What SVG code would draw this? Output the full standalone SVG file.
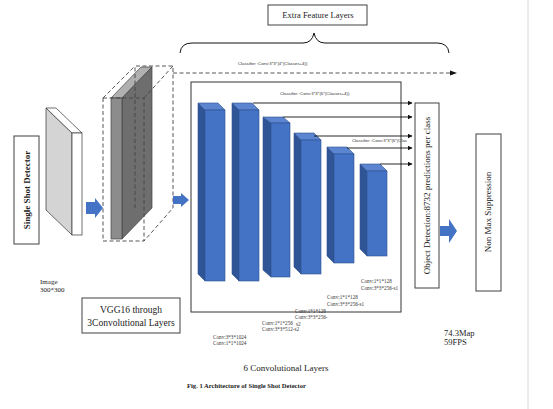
<svg xmlns="http://www.w3.org/2000/svg" width="553" height="409" viewBox="0 0 553 409">
<style>
.box{fill:#fff;stroke:#404040;stroke-width:1}
.serif{font-family:"Liberation Serif","Times New Roman",serif;fill:#222}
.small{font-family:"Liberation Sans",Arial,sans-serif;font-size:4.3px;fill:#333}
.conv{font-family:"Liberation Serif","Times New Roman",serif;font-size:5.2px;fill:#333}
.front{fill:#4472C4;stroke:#2F528F;stroke-width:0.6}
.side{fill:#2F5597;stroke:#2F528F;stroke-width:0.6}
.top{fill:#5B85D0;stroke:#2F528F;stroke-width:0.6}
.blue{fill:#4472C4}
.dash{fill:none;stroke:#444;stroke-width:0.9;stroke-dasharray:4 2.5}
.line{stroke:#111;stroke-width:0.9;fill:none}
</style>
<defs>
<marker id="ah" viewBox="0 0 10 10" refX="9" refY="5" markerWidth="5" markerHeight="5" orient="auto" markerUnits="userSpaceOnUse">
<path d="M0,0 L10,5 L0,10 z" fill="#111"/>
</marker>
</defs>
<rect width="553" height="409" fill="#fff"/>
<line x1="528" y1="0" x2="528" y2="409" stroke="#d8d8d8" stroke-width="1"/>

<g id="single-shot-detector">
<rect class="box" x="14" y="136" width="25" height="108"/>
<text class="serif" font-weight="bold" font-size="9" text-anchor="middle" transform="translate(29.5,190) rotate(-90)">Single Shot Detector</text>
</g>

<g id="image">
<polygon points="46,108 72,133 72,235 46,210" fill="#d4d4d4" stroke="#333" stroke-width="0.7"/>
<polygon points="46,108 56,108 82,133 72,133" fill="#fff" stroke="#333" stroke-width="0.7"/>
<rect x="72" y="133" width="10" height="102" fill="#fff" stroke="#333" stroke-width="0.7"/>
<text class="serif" font-size="7" x="40" y="284">Image</text>
<text class="serif" font-size="7" x="40" y="292">300*300</text>
</g>

<g id="vgg16">
<polygon points="111,98 141,67 152,67 122,98" fill="#b0b0b0" stroke="#444" stroke-width="0.7"/>
<polygon points="122,98 152,67 152,208 122,239" fill="#6e6e6e" stroke="#444" stroke-width="0.7"/>
<rect x="111" y="98" width="11" height="141" fill="#8c8c8c" stroke="#444" stroke-width="0.7"/>
<rect class="dash" x="103" y="98" width="41" height="143"/>
<polyline class="dash" points="135,208 135,66 173,66 173,208 144,241"/>
<line class="dash" x1="103" y1="98" x2="135" y2="66"/>
<line class="dash" x1="144" y1="98" x2="173" y2="66"/>
<rect class="box" x="82" y="298" width="98" height="35"/>
<text class="serif" font-size="9.5" text-anchor="middle" x="131" y="313">VGG16 through</text>
<text class="serif" font-size="9.5" text-anchor="middle" x="131" y="326">3Convolutional Layers</text>
</g>

<g id="extra-feature-layers">
<rect class="box" x="268" y="5" width="99" height="20"/>
<text class="serif" font-size="8.5" text-anchor="middle" x="318" y="18">Extra Feature Layers</text>
<path d="M180,53 Q181,43 192,43 L303,43 Q312,43 314,33 Q316,43 325,43 L437,43 Q448,43 449,53" fill="none" stroke="#111" stroke-width="1"/>
</g>

<g id="conv-layers">
<rect x="191" y="82" width="210" height="230" fill="none" stroke="#333" stroke-width="1"/>
<g id="bar1"><polygon class="side" points="198,103 205,110 205,281 198,274"/><polygon class="top" points="198,103 218,103 225,110 205,110"/><rect class="front" x="205" y="110" width="20" height="171"/></g>
<g id="bar2"><polygon class="side" points="232,103 239,110 239,281 232,274"/><polygon class="top" points="232,103 252,103 259,110 239,110"/><rect class="front" x="239" y="110" width="20" height="171"/></g>
<g id="bar3"><polygon class="side" points="263,117 271,123 271,277 263,270"/><polygon class="top" points="263,117 283,117 290,123 271,123"/><rect class="front" x="271" y="123" width="19" height="154"/></g>
<g id="bar4"><polygon class="side" points="294,133 301,140 301,274 294,267"/><polygon class="top" points="294,133 314,133 321,140 301,140"/><rect class="front" x="301" y="140" width="20" height="134"/></g>
<g id="bar5"><polygon class="side" points="327,147 334,154 334,263 327,256"/><polygon class="top" points="327,147 347,147 354,154 334,154"/><rect class="front" x="334" y="154" width="20" height="109"/></g>
<g id="bar6"><polygon class="side" points="360,164 367,171 367,256 360,249"/><polygon class="top" points="360,164 380,164 387,171 367,171"/><rect class="front" x="367" y="171" width="20" height="85"/></g>
<text class="conv" x="361" y="283">Conv:1*1*128</text>
<text class="conv" x="361" y="290">Conv:3*3*256-s1</text>
<text class="conv" x="327" y="299">Conv:1*1*128</text>
<text class="conv" x="327" y="306">Conv:3*3*256-s1</text>
<text class="conv" x="295" y="312.5">Conv:1*1*128</text>
<text class="conv" x="295" y="318.5">Conv:3*3*256-</text>
<text class="conv" x="262" y="325">Conv:1*1*256</text>
<text class="conv" x="296" y="326">s2</text>
<text class="conv" x="262" y="331">Conv:3*3*512-s2</text>
<text class="conv" x="213" y="339">Conv:3*3*1024</text>
<text class="conv" x="213" y="345">Conv:1*1*1024</text>
<text class="serif" font-size="9" text-anchor="middle" x="286" y="371">6 Convolutional Layers</text>
</g>

<g id="object-detection">
<rect class="box" x="415" y="103" width="24" height="185"/>
<text class="serif" font-size="9" text-anchor="middle" transform="translate(430,195.5) rotate(-90)">Object Detection:8732 predictions per class</text>
</g>

<g id="non-max-suppression">
<rect class="box" x="476" y="134" width="25" height="157"/>
<text class="serif" font-size="9" text-anchor="middle" transform="translate(491,212) rotate(-90)">Non Max Suppression</text>
</g>

<g id="connectors">
<polygon class="blue" points="86,202 95,202 95,198 103,208 95,218 95,214 86,214"/>
<polygon class="blue" points="173,196 181,196 181,193 189,200 181,207 181,204 173,204"/>
<polygon class="blue" points="440,226 449,226 449,219 457,231 449,243 449,236 440,236"/>
<line class="dash" x1="173" y1="73" x2="452" y2="73"/>
<polygon points="450,70.5 457,73 450,75.5" fill="#111"/>
<line class="line" x1="253" y1="103" x2="412" y2="103" marker-end="url(#ah)"/>
<line class="line" x1="283" y1="117" x2="412" y2="117" marker-end="url(#ah)"/>
<line class="line" x1="314" y1="136" x2="412" y2="136" marker-end="url(#ah)"/>
<line class="line" x1="347" y1="148" x2="412" y2="148" marker-end="url(#ah)"/>
<line class="line" x1="380" y1="164" x2="412" y2="164" marker-end="url(#ah)"/>
</g>

<g id="labels">
<text class="small" x="238" y="65">Classifier :Conv:3*3*(4*(Classes+4))</text>
<text class="small" x="280" y="95">Classifier :Conv:3*3*(6*(Classes+4))</text>
<text class="small" x="352" y="142">Classifier :Conv:3*3*(6*(Clas</text>
<text class="serif" font-size="8.5" x="444" y="336">74.3Map</text>
<text class="serif" font-size="8.5" x="444" y="345">59FPS</text>
<text class="serif" font-weight="bold" font-size="6.6" x="187" y="388">Fig. 1 Architecture of Single Shot Detector</text>
</g>
</svg>
